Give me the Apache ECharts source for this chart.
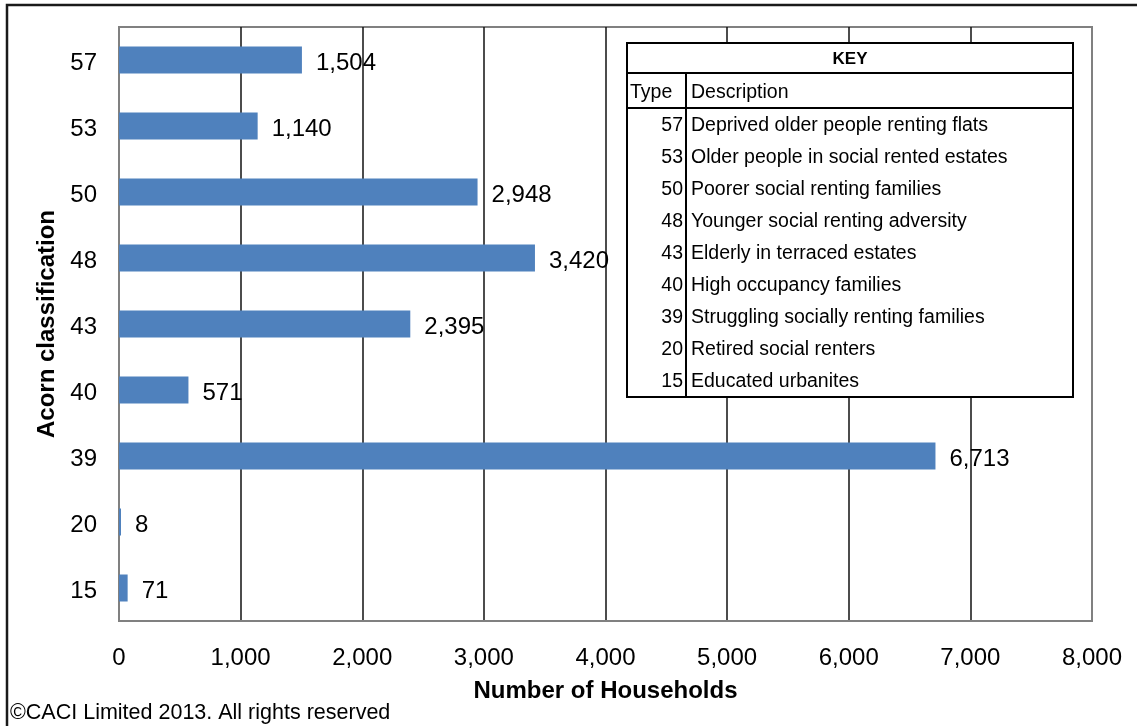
<!DOCTYPE html>
<html>
<head>
<meta charset="utf-8">
<script src="https://cdn.jsdelivr.net/npm/echarts@6/dist/echarts.min.js"></script>
<style>
html,body{margin:0;padding:0;background:#fff;}
#chart{width:1137px;height:726px;}
</style>
</head>
<body>
<div id="chart"></div>
<script>
// Categories (bottom to top as drawn by the category y axis)
var categories = ['15', '20', '39', '40', '43', '48', '50', '53', '57'];
var households = [71, 8, 6713, 571, 2395, 3420, 2948, 1140, 1504];
var xTicks = [0, 1000, 2000, 3000, 4000, 5000, 6000, 7000, 8000];
// Key table (top to bottom)
var keyTypes = ['57', '53', '50', '48', '43', '40', '39', '20', '15'];
var keyDescriptions = [
  'Deprived older people renting flats',
  'Older people in social rented estates',
  'Poorer social renting families',
  'Younger social renting adversity',
  'Elderly in terraced estates',
  'High occupancy families',
  'Struggling socially renting families',
  'Retired social renters',
  'Educated urbanites'
];
var FONT = '"Liberation Sans", Arial, sans-serif';

function fmt(v){ return Number(v).toLocaleString('en-US'); }

var chart = echarts.init(document.getElementById('chart'));

// Build key table graphics
var tL = 627, tR = 1073, tT = 43, tKey = 73, tHead = 108, tB = 397, tCol = 686;
var rowTop = 109, rowH = 32;
var g = [];
g.push({type:'rect', z:10, shape:{x:tL, y:tT, width:tR-tL, height:tB-tT}, style:{fill:'#fff', stroke:'#000', lineWidth:2}});
g.push({type:'line', z:11, shape:{x1:tL, y1:tKey, x2:tR, y2:tKey}, style:{stroke:'#000', lineWidth:2}});
g.push({type:'line', z:11, shape:{x1:tL, y1:tHead, x2:tR, y2:tHead}, style:{stroke:'#000', lineWidth:2}});
g.push({type:'line', z:11, shape:{x1:tCol, y1:tKey, x2:tCol, y2:tB}, style:{stroke:'#000', lineWidth:2}});
g.push({type:'text', z:12, x:(tL+tR)/2, y:(tT+tKey)/2+1, style:{text:'KEY', font:'bold 17px '+FONT, fill:'#000', textAlign:'center', textVerticalAlign:'middle'}});
g.push({type:'text', z:12, x:tL+3, y:(tKey+tHead)/2+2, style:{text:'Type', font:'19.5px '+FONT, fill:'#000', textAlign:'left', textVerticalAlign:'middle'}});
g.push({type:'text', z:12, x:tCol+5, y:(tKey+tHead)/2+2, style:{text:'Description', font:'19.5px '+FONT, fill:'#000', textAlign:'left', textVerticalAlign:'middle'}});
for (var i = 0; i < keyTypes.length; i++) {
  var cy = rowTop + rowH*i + rowH/2 + 1;
  g.push({type:'text', z:12, x:tCol-3, y:cy, style:{text:keyTypes[i], font:'19.5px '+FONT, fill:'#000', textAlign:'right', textVerticalAlign:'middle'}});
  g.push({type:'text', z:12, x:tCol+5, y:cy, style:{text:keyDescriptions[i], font:'19.5px '+FONT, fill:'#000', textAlign:'left', textVerticalAlign:'middle'}});
}
// Outer frame and copyright
g.push({type:'rect', z:5, shape:{x:7, y:5, width:1300, height:900}, style:{fill:'none', stroke:'#1a1a1a', lineWidth:2.5}});
g.push({type:'text', z:12, x:10, y:713, style:{text:'\u00A9CACI Limited 2013. All rights reserved', font:'21.5px '+FONT, fill:'#000', textAlign:'left', textVerticalAlign:'middle'}});

var splitColors = xTicks.map(function(t, i){ return (i === 0 || i === xTicks.length-1) ? '#808080' : '#111'; });

chart.setOption({
  animation: false,
  backgroundColor: '#fff',
  textStyle: {fontFamily: FONT},
  grid: {left:119, top:27, right:45, bottom:105, show:true, borderColor:'#808080', borderWidth:2, containLabel:false},
  xAxis: {
    type: 'value', min: xTicks[0], max: xTicks[xTicks.length-1], interval: 1000,
    name: 'Number of Households', nameLocation: 'middle', nameGap: 58,
    nameTextStyle: {fontSize: 24, fontWeight: 'bold', color: '#000', fontFamily: FONT},
    axisLine: {show: true, lineStyle: {color: '#808080', width: 2}},
    axisTick: {show: false},
    axisLabel: {fontSize: 24, color: '#000', margin: 25, fontFamily: FONT, formatter: function(v){ return fmt(v); }},
    splitLine: {show: true, lineStyle: {color: splitColors, width: 1.5}}
  },
  yAxis: {
    type: 'category', data: categories,
    name: 'Acorn classification', nameLocation: 'middle', nameGap: 49, nameRotate: 90,
    nameTextStyle: {fontSize: 24, fontWeight: 'bold', color: '#000', fontFamily: FONT},
    axisLine: {show: true, lineStyle: {color: '#808080', width: 2}},
    axisTick: {show: false},
    axisLabel: {color: '#000', margin: 22, fontFamily: FONT,
      formatter: function(v){ return '{c|' + v + '}'; },
      rich: {c: {fontSize: 24, color: '#000', fontFamily: FONT, padding: [6, 0, 0, 0]}}},
    splitLine: {show: false}
  },
  series: [{
    type: 'bar', data: households, barWidth: 27, barMinHeight: 2,
    itemStyle: {color: '#4F81BD'},
    label: {show: true, position: 'right', distance: 14, offset: [0, 3], fontSize: 24, color: '#000', fontFamily: FONT,
      formatter: function(p){ return fmt(p.value); }}
  }],
  graphic: g
});
</script>
</body>
</html>
